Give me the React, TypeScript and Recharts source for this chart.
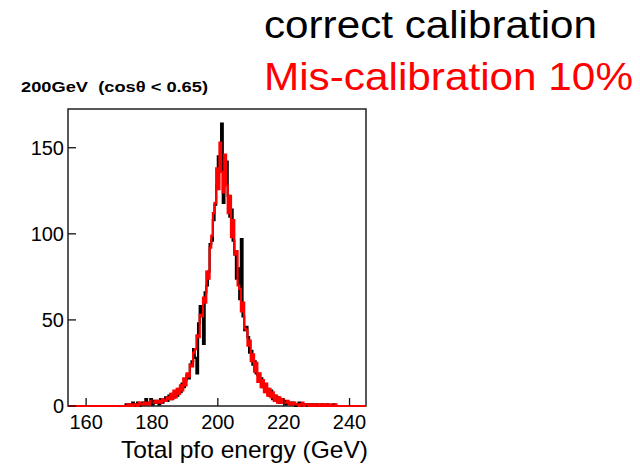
import { LineChart, Line, XAxis, YAxis, ReferenceArea } from 'recharts';

// histogram binning (GeV)
const ENERGY_START = 170;
const BIN_WIDTH = 0.5;
const X_MIN = 154.5;
const X_MAX = 245;
const Y_MAX = 172.5;

// events per 0.5 GeV bin, starting at 170 GeV
const correctCounts = [
  0, 0, 0, 0, 1, 0, 1, 0, 2, 0,
  1, 2, 0, 1, 2, 1, 4, 1, 2, 4,
  1, 3, 2, 3, 1, 4, 2, 3, 5, 3,
  6, 4, 7, 5, 8, 6, 10, 8, 13, 11,
  15, 18, 16, 24, 26, 33, 28, 19, 48, 58,
  54, 36, 66, 70, 78, 94, 96, 108, 117, 128,
  145, 138, 164, 118, 135, 142, 122, 110, 114, 96,
  88, 74, 80, 62, 97, 52, 44, 46, 40, 31,
  32, 24, 26, 19, 18, 14, 16, 11, 12, 8,
  10, 6, 9, 4, 6, 3, 5, 2, 4, 2,
  3, 1, 2, 2, 1, 2, 1, 0, 1, 2,
  0, 1, 1, 0, 1, 0, 1, 0, 1, 0,
  1, 0, 0, 1, 0, 0, 1, 0, 0, 0,
  1, 0, 0, 0, 0, 0,
];

const miscalCounts = [
  0, 0, 0, 0, 0, 1, 0, 1, 0, 1,
  1, 0, 2, 1, 1, 2, 1, 2, 1, 3,
  2, 2, 3, 2, 3, 2, 4, 3, 3, 5,
  4, 7, 4, 9, 5, 10, 7, 12, 9, 16,
  12, 19, 17, 24, 23, 31, 33, 41, 40, 53,
  52, 63, 60, 78, 74, 92, 99, 112, 118, 138,
  126, 153, 136, 124, 146, 128, 112, 122, 98, 108,
  88, 90, 70, 68, 55, 60, 45, 44, 35, 38,
  26, 30, 20, 25, 14, 19, 11, 15, 8, 13,
  6, 10, 5, 8, 3, 6, 2, 5, 2, 4,
  2, 2, 3, 1, 2, 1, 2, 1, 1, 0,
  1, 2, 0, 1, 1, 0, 1, 0, 1, 0,
  1, 0, 1, 0, 1, 0, 1, 0, 1, 0,
  0, 1, 0, 0, 0, 0,
];

const xTicks = [160, 180, 200, 220, 240];
const yTicks = [0, 50, 100, 150];

const data = [
  { energy: X_MIN, correct: 0, miscal: 0 },
  ...correctCounts.map((c, i) => ({
    energy: ENERGY_START + i * BIN_WIDTH,
    correct: c,
    miscal: miscalCounts[i],
  })),
  { energy: ENERGY_START + correctCounts.length * BIN_WIDTH, correct: 0, miscal: 0 },
  { energy: X_MAX, correct: 0, miscal: 0 },
];

const FONT = '"Liberation Sans", Arial, sans-serif';

// ROOT-style ticks: short marks pointing into the frame
const XTick = ({ x, payload, index, plotBottom }: any) => (
  <g key={index}>
    <line x1={x} x2={x} y1={plotBottom} y2={plotBottom - 8} stroke="#111" strokeWidth={1.3} />
    <text x={x} y={plotBottom + 23} textAnchor="middle" fontSize={20} fontFamily={FONT} fill="#000">
      {payload.value}
    </text>
  </g>
);

const YTick = ({ y, payload, index, plotLeft }: any) => (
  <g key={index}>
    <line x1={plotLeft} x2={plotLeft + 8} y1={y} y2={y} stroke="#111" strokeWidth={1.3} />
    <text x={plotLeft - 4} y={y + 7} textAnchor="end" fontSize={20} fontFamily={FONT} fill="#000">
      {payload.value}
    </text>
  </g>
);

export default function App() {
  const width = 640;
  const height = 466;
  const margin = { top: 109, right: 274, bottom: 0, left: 0 };
  const yAxisWidth = 68;
  const xAxisHeight = 60;
  const plotLeft = margin.left + yAxisWidth;
  const plotBottom = height - margin.bottom - xAxisHeight;

  return (
    <div style={{ position: 'absolute', left: 0, top: 0, width, height, background: '#fff' }}>
      <LineChart width={width} height={height} data={data} margin={margin}>
        <XAxis
          dataKey="energy"
          type="number"
          domain={[X_MIN, X_MAX]}
          ticks={xTicks}
          height={xAxisHeight}
          axisLine={false}
          tickLine={false}
          interval={0}
          tick={(p: any) => <XTick {...p} plotBottom={plotBottom} />}
          label={{
            content: ({ viewBox }: any) => (
              <text
                x={viewBox.x + viewBox.width + 2}
                y={viewBox.y + 52}
                textAnchor="end"
                fontSize={24}
                fontFamily={FONT}
                fill="#000"
                textLength={247}
                lengthAdjust="spacingAndGlyphs"
              >
                Total pfo energy (GeV)
              </text>
            ),
          }}
        />
        <YAxis
          type="number"
          domain={[0, Y_MAX]}
          ticks={yTicks}
          width={yAxisWidth}
          axisLine={false}
          tickLine={false}
          interval={0}
          tick={(p: any) => <YTick {...p} plotLeft={plotLeft} />}
        />
        {/* frame */}
        <ReferenceArea
          x1={X_MIN}
          x2={X_MAX}
          y1={0}
          y2={Y_MAX}
          fill="none"
          stroke="#222"
          strokeWidth={1.5}
          fillOpacity={0}
        />
        <Line
          type="stepAfter"
          dataKey="correct"
          stroke="#000"
          strokeWidth={2.2}
          dot={false}
          isAnimationActive={false}
        />
        <Line
          type="stepAfter"
          dataKey="miscal"
          stroke="#ff0000"
          strokeWidth={2.2}
          dot={false}
          isAnimationActive={false}
        />
      </LineChart>
      <svg
        width={width}
        height={height}
        style={{ position: 'absolute', left: 0, top: 0, pointerEvents: 'none' }}
      >
        <text x={264} y={37.5} fontSize={38} fontFamily={FONT} fill="#000" textLength={333} lengthAdjust="spacingAndGlyphs">
          correct calibration
        </text>
        <text x={264} y={89.5} fontSize={38} fontFamily={FONT} fill="#ff0000" textLength={369} lengthAdjust="spacingAndGlyphs">
          Mis-calibration 10%
        </text>
        <text x={21} y={91.5} fontSize={15.5} fontWeight="bold" fontFamily={FONT} fill="#000" textLength={187} lengthAdjust="spacingAndGlyphs">
          {'200GeV\u00a0\u00a0(cosθ < 0.65)'}
        </text>
      </svg>
    </div>
  );
}
